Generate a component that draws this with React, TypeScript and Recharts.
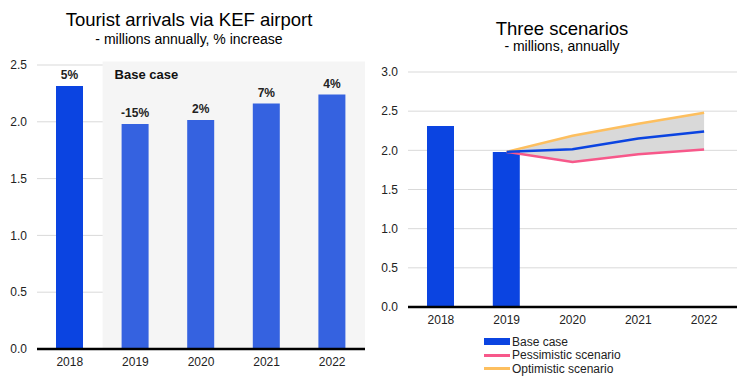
import React from 'react';
import { BarChart, Bar, XAxis, YAxis, CartesianGrid, ReferenceArea, LabelList, Cell, ComposedChart, Line, Area, Legend } from 'recharts';

const years = ['2018', '2019', '2020', '2021', '2022'];
const arrivals = [2.315, 1.98, 2.015, 2.16, 2.24];
const pctLabels = ['5%', '-15%', '2%', '7%', '4%'];

const actualBars = [2.31, 1.98, null, null, null];
const baseCase = [null, 1.98, 2.015, 2.15, 2.24];
const pessimistic = [null, 1.98, 1.85, 1.95, 2.01];
const optimistic = [null, 1.98, 2.185, 2.34, 2.48];

const leftTicks = [0, 0.5, 1.0, 1.5, 2.0, 2.5];
const rightTicks = [0, 0.5, 1.0, 1.5, 2.0, 2.5, 3.0];

const FONT = '"Liberation Sans", Arial, sans-serif';
const DARK_BLUE = '#0b44e1';
const LIGHT_BLUE = '#3562e0';
const PINK = '#f7588a';
const ORANGE = '#fdbf5f';

const leftData = years.map((y, i) => ({ year: y, value: arrivals[i], pct: pctLabels[i] }));
const rightData = years.map((y, i) => ({
  year: y,
  bar: actualBars[i],
  base: baseCase[i],
  pess: pessimistic[i],
  opt: optimistic[i],
  range: pessimistic[i] != null && optimistic[i] != null ? [pessimistic[i], optimistic[i]] : null,
}));

const tickStyle = { fontSize: 12, fill: '#222', fontFamily: FONT };

const legendItems = [
  { label: 'Base case', color: DARK_BLUE, h: 7 },
  { label: 'Pessimistic scenario', color: PINK, h: 3 },
  { label: 'Optimistic scenario', color: ORANGE, h: 3 },
];

const LegendContent = () => (
  <div style={{ fontFamily: FONT, fontSize: 12, color: '#222' }}>
    {legendItems.map((it) => (
      <div key={it.label} style={{ display: 'flex', alignItems: 'center', height: 13.5 }}>
        <div style={{ width: 26, height: it.h, background: it.color, marginRight: 2 }} />
        <span>{it.label}</span>
      </div>
    ))}
  </div>
);

export default function App() {
  return (
    <div style={{ position: 'absolute', left: 0, top: 0, width: 751, height: 385, background: '#fff', fontFamily: FONT }}>
      <div style={{ position: 'absolute', left: 0, top: 11, width: 378, textAlign: 'center', fontSize: 18.5, color: '#000', lineHeight: '18px' }}>
        Tourist arrivals via KEF airport
      </div>
      <div style={{ position: 'absolute', left: 0, top: 32, width: 378, textAlign: 'center', fontSize: 14, color: '#000', lineHeight: '14px' }}>
        - millions annually, % increase
      </div>
      <div style={{ position: 'absolute', left: 375, top: 20, width: 374, textAlign: 'center', fontSize: 18.5, color: '#000', lineHeight: '18px' }}>
        Three scenarios
      </div>
      <div style={{ position: 'absolute', left: 375, top: 39, width: 374, textAlign: 'center', fontSize: 14, color: '#000', lineHeight: '14px' }}>
        - millions, annually
      </div>

      <div style={{ position: 'absolute', left: 0, top: 0 }}>
        <BarChart width={375} height={385} data={leftData} margin={{ top: 65, right: 10, bottom: 6, left: 7 }}>
          <ReferenceArea
            x1="2019"
            x2="2022"
            y1={0}
            y2={2.53}
            ifOverflow="visible"
            fill="#f5f5f5"
            fillOpacity={1}
            stroke="none"
            label={(props: any) => {
              const vb = props.viewBox || {};
              return (
                <text x={vb.x + 12} y={vb.y + 17} fontSize={13} fontWeight="bold" fill="#111" fontFamily={FONT}>
                  Base case
                </text>
              );
            }}
          />
          <CartesianGrid vertical={false} stroke="#d9d9d9" />
          <XAxis dataKey="year" axisLine={{ stroke: '#000', strokeWidth: 2.5 }} tickLine={false} tick={tickStyle} height={30} />
          <YAxis domain={[0, 2.5]} ticks={leftTicks} tickFormatter={(v: number) => v.toFixed(1)} axisLine={false} tickLine={false} tick={tickStyle} width={30} tickMargin={4} />
          <Bar dataKey="value" barSize={27} isAnimationActive={false}>
            {leftData.map((d, i) => (
              <Cell key={d.year} fill={i === 0 ? DARK_BLUE : LIGHT_BLUE} />
            ))}
            <LabelList dataKey="pct" position="top" offset={7} fill="#222" fontSize={12} fontWeight="bold" fontFamily={FONT} />
          </Bar>
        </BarChart>
      </div>

      <div style={{ position: 'absolute', left: 375, top: 0 }}>
        <ComposedChart width={376} height={385} data={rightData} margin={{ top: 72, right: 14, bottom: 48, left: 5 }}>
          <CartesianGrid vertical={false} stroke="#d9d9d9" />
          <XAxis dataKey="year" axisLine={{ stroke: '#000', strokeWidth: 2.5 }} tickLine={false} tick={tickStyle} height={30} />
          <YAxis domain={[0, 3]} ticks={rightTicks} tickFormatter={(v: number) => v.toFixed(1)} axisLine={false} tickLine={false} tick={tickStyle} width={28} tickMargin={4} />
          <Area dataKey="range" type="linear" fill="#d9d9d9" fillOpacity={1} stroke="none" isAnimationActive={false} connectNulls={false} />
          <Bar dataKey="bar" barSize={27} fill={DARK_BLUE} isAnimationActive={false} />
          <Line dataKey="pess" type="linear" stroke={PINK} strokeWidth={2.5} dot={false} isAnimationActive={false} />
          <Line dataKey="opt" type="linear" stroke={ORANGE} strokeWidth={2.5} dot={false} isAnimationActive={false} />
          <Line dataKey="base" type="linear" stroke={DARK_BLUE} strokeWidth={2.5} dot={false} isAnimationActive={false} />
          <Legend
            layout="vertical"
            align="center"
            verticalAlign="middle"
            content={<LegendContent />}
            wrapperStyle={{ position: 'absolute', top: 335, left: 109, width: 200 }}
          />
        </ComposedChart>
      </div>
    </div>
  );
}
